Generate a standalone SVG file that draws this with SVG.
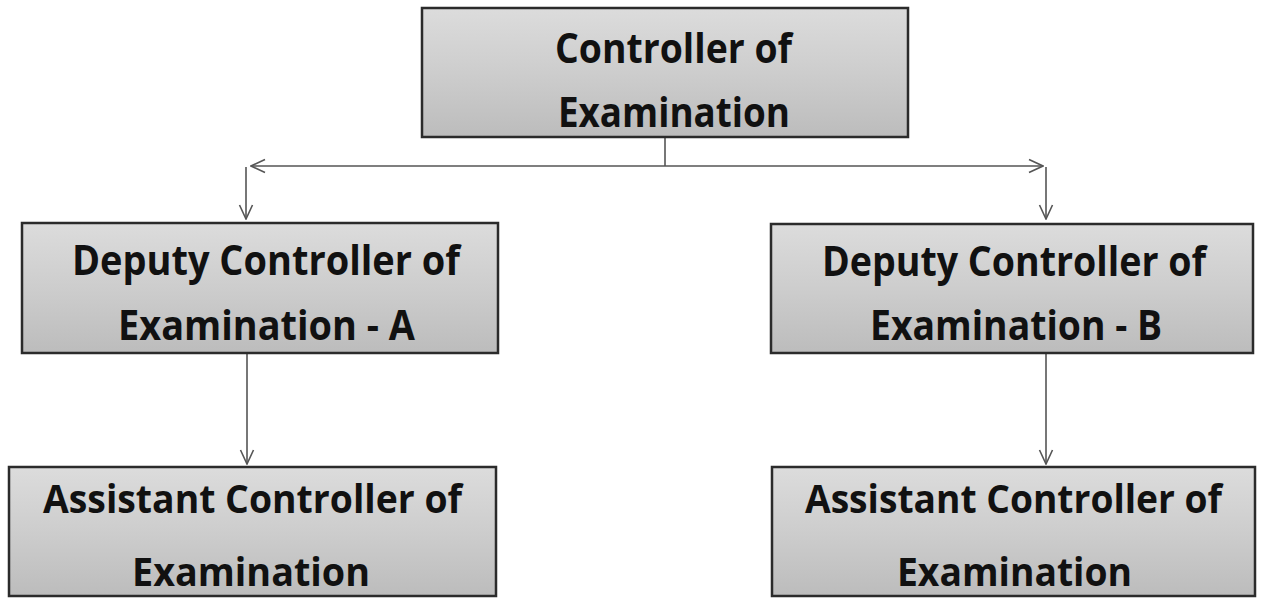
<svg xmlns="http://www.w3.org/2000/svg" width="1262" height="599" viewBox="0 0 1262 599">
<style>
.box{fill:url(#g);stroke:#2b2b2b;stroke-width:2.5}
.t{font-family:"Open Sans","Liberation Sans",Arial,sans-serif;font-weight:bold;font-size:41px;fill:#111}
.s{font-size:40px}
.c{fill:none;stroke:#555;stroke-width:1.6}
</style>
<defs>
<linearGradient id="g" x1="0" y1="0" x2="0" y2="1">
<stop offset="0" stop-color="#dcdcdc"/>
<stop offset="0.5" stop-color="#cdcdcd"/>
<stop offset="1" stop-color="#bcbcbc"/>
</linearGradient>
<marker id="a" viewBox="0 0 16 16" refX="15" refY="8" markerWidth="16" markerHeight="16" markerUnits="userSpaceOnUse" orient="auto">
<path d="M1,1.5 L15,8 L1,14.5" fill="none" stroke="#555" stroke-width="1.6"/>
</marker>
</defs>
<g id="connectors">
<line class="c" x1="665" y1="138" x2="665" y2="166"/>
<line class="c" x1="665" y1="166" x2="251" y2="166" marker-end="url(#a)"/>
<line class="c" x1="665" y1="166" x2="1043" y2="166" marker-end="url(#a)"/>
<line class="c" x1="246" y1="167" x2="246" y2="219" marker-end="url(#a)"/>
<line class="c" x1="1046" y1="167" x2="1046" y2="219" marker-end="url(#a)"/>
<line class="c" x1="247" y1="354" x2="247" y2="464" marker-end="url(#a)"/>
<line class="c" x1="1046" y1="354" x2="1046" y2="464" marker-end="url(#a)"/>
</g>
<g id="n-controller">
<rect class="box" x="422" y="8" width="486" height="129"/>
<text class="t" x="555" y="63" textLength="237" lengthAdjust="spacingAndGlyphs">Controller of</text>
<text class="t" x="558" y="127" textLength="232" lengthAdjust="spacingAndGlyphs">Examination</text>
</g>
<g id="n-deputy-a">
<rect class="box" x="22" y="223" width="476" height="130"/>
<text class="t" x="72" y="275" textLength="388" lengthAdjust="spacingAndGlyphs">Deputy Controller of</text>
<text class="t" x="118" y="340" textLength="297" lengthAdjust="spacingAndGlyphs">Examination - A</text>
</g>
<g id="n-deputy-b">
<rect class="box" x="771" y="224" width="482" height="129"/>
<text class="t" x="822" y="276" textLength="384" lengthAdjust="spacingAndGlyphs">Deputy Controller of</text>
<text class="t" x="870" y="340" textLength="292" lengthAdjust="spacingAndGlyphs">Examination - B</text>
</g>
<g id="n-assistant-a">
<rect class="box" x="9" y="467" width="487" height="129"/>
<text class="t s" x="43" y="513" textLength="419" lengthAdjust="spacingAndGlyphs">Assistant Controller of</text>
<text class="t s" x="132" y="586" textLength="238" lengthAdjust="spacingAndGlyphs">Examination</text>
</g>
<g id="n-assistant-b">
<rect class="box" x="772" y="467" width="483" height="129"/>
<text class="t s" x="805" y="513" textLength="417" lengthAdjust="spacingAndGlyphs">Assistant Controller of</text>
<text class="t s" x="897" y="586" textLength="235" lengthAdjust="spacingAndGlyphs">Examination</text>
</g>
</svg>
